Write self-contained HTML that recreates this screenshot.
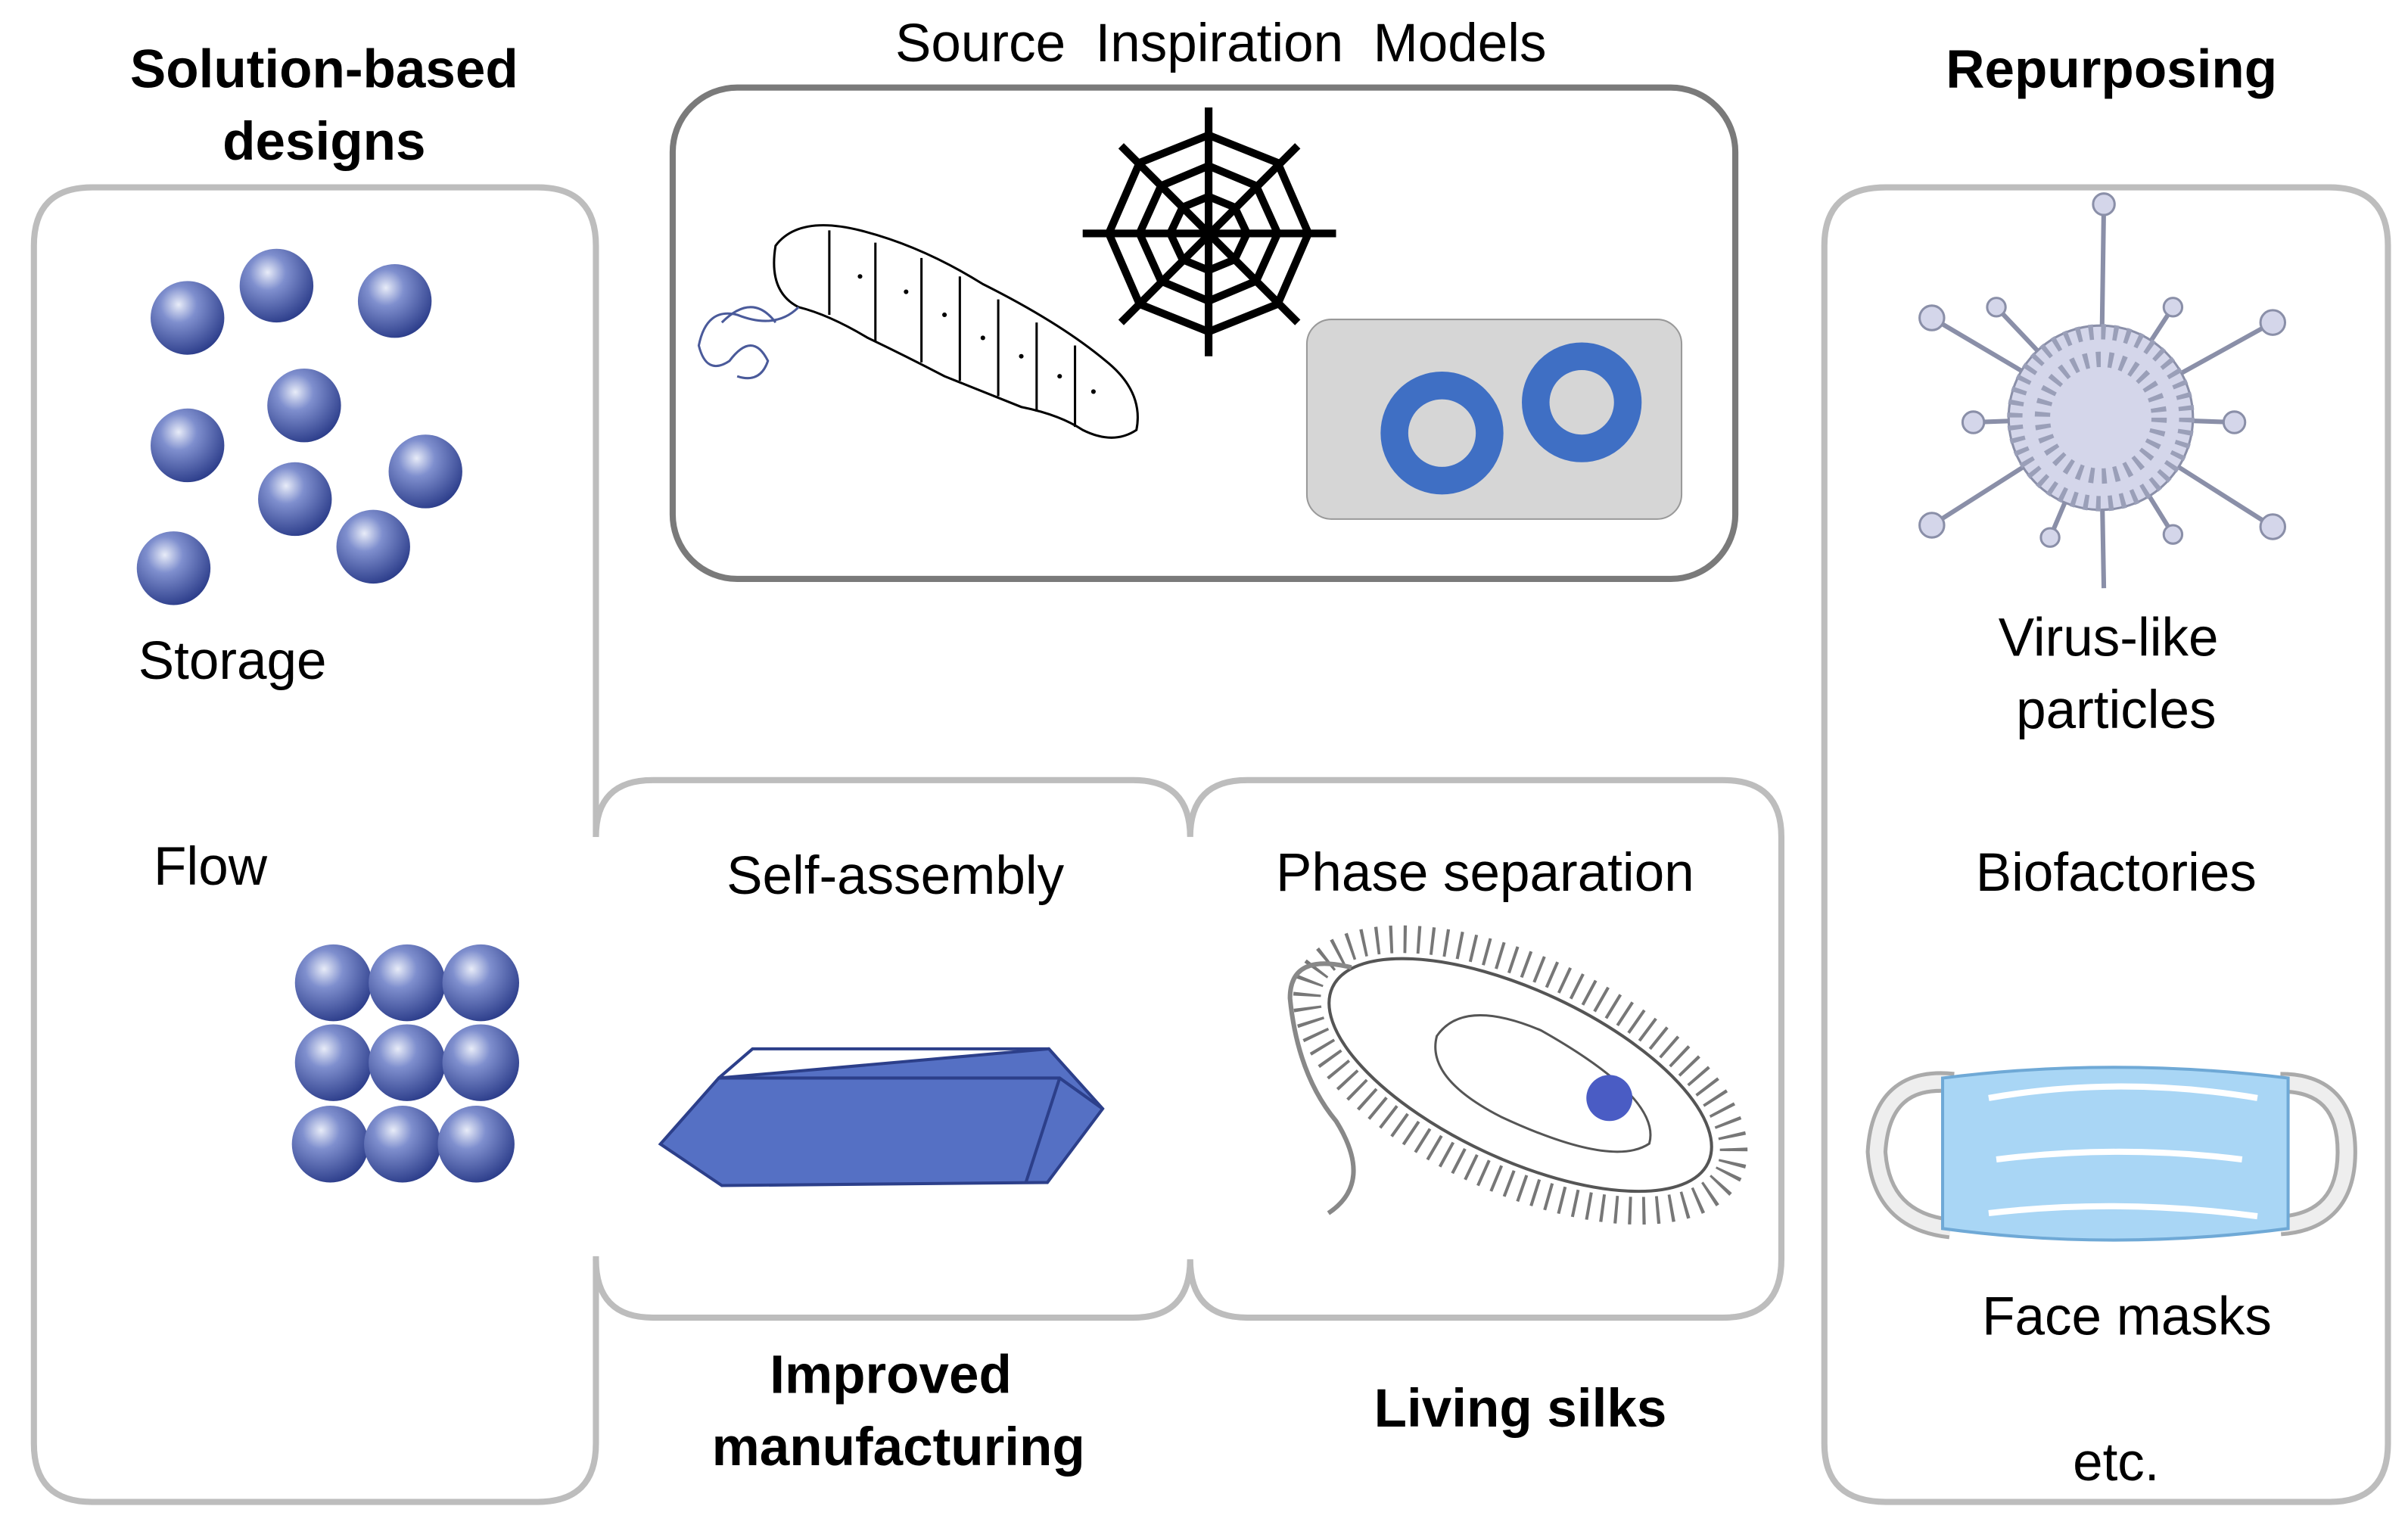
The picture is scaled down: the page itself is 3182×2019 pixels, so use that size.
<!DOCTYPE html>
<html><head><meta charset="utf-8"><style>
html,body{margin:0;padding:0;background:#fff;}
svg{display:block;}
text{font-family:"Liberation Sans",sans-serif;fill:#000;}
.b{font-weight:bold;}
</style></head><body>
<svg width="3182" height="2019" viewBox="0 0 1568 995" xmlns="http://www.w3.org/2000/svg">
<defs>
<radialGradient id="sp" cx="0.38" cy="0.32" r="0.7">
<stop offset="0" stop-color="#e8ecf8"/><stop offset="0.35" stop-color="#7f8fce"/><stop offset="1" stop-color="#2e3f8c"/>
</radialGradient>
</defs>
<!-- boxes -->
<g fill="none" stroke="#bdbdbd" stroke-width="4">
<path d="M388,545 V160 Q388,122 350,122 H60 Q22,122 22,160 V940 Q22,978 60,978 H350 Q388,978 388,940 V818"/>
<path d="M1228,122 H1517 Q1555,122 1555,160 V940 Q1555,978 1517,978 H1228 Q1188,978 1188,940 V160 Q1188,122 1228,122 Z"/>
<path d="M388,545 Q388,508 425,508 H738 Q775,508 775,545 Q775,508 812,508 H1122 Q1160,508 1160,545 V820 Q1160,858 1122,858 H812 Q775,858 775,820 Q775,858 738,858 H425 Q388,858 388,820"/>
</g>
<rect x="438" y="57" width="692" height="320" rx="42" fill="none" stroke="#7a7a7a" stroke-width="4"/>
<rect x="851" y="208" width="244" height="130" rx="16" fill="#d6d6d6" stroke="#999" stroke-width="1"/>
<circle cx="939" cy="282" r="31" fill="none" stroke="#3f6fc4" stroke-width="18"/>
<circle cx="1030" cy="262" r="30" fill="none" stroke="#3f6fc4" stroke-width="18"/>
<!-- web -->
<g stroke="#000" stroke-width="5" fill="none">
<line x1="787" y1="70" x2="787" y2="232"/><line x1="705" y1="152" x2="870" y2="152"/>
<line x1="730" y1="95" x2="845" y2="210"/><line x1="845" y1="95" x2="730" y2="210"/>
<path d="M787,88 L832,106 L852,152 L832,198 L787,216 L742,198 L722,152 L742,106 Z"/>
<path d="M787,108 L818,121 L832,152 L818,183 L787,196 L756,183 L742,152 L756,121 Z"/>
<path d="M787,128 L804,135 L812,152 L804,169 L787,176 L770,169 L762,152 L770,135 Z"/>
</g>
<!-- caterpillar -->
<g fill="#fff" stroke="#000" stroke-width="1.5">
<path d="M505,160 Q520,140 560,150 Q600,160 640,185 Q690,210 720,235 Q745,255 740,280 Q725,290 705,280 Q690,270 665,265 Q640,255 615,245 Q590,232 565,220 Q540,205 520,200 Q500,190 505,160 Z"/>
<path d="M540,150 V205 M570,158 V222 M600,168 V236 M625,180 V248 M650,195 V258 M675,210 V268 M700,225 V278" fill="none"/>
</g>
<g fill="#000"><circle cx="560" cy="180" r="1.5"/><circle cx="590" cy="190" r="1.5"/><circle cx="615" cy="205" r="1.5"/><circle cx="640" cy="220" r="1.5"/><circle cx="665" cy="232" r="1.5"/><circle cx="690" cy="245" r="1.5"/><circle cx="712" cy="255" r="1.5"/></g>
<path d="M520,200 Q505,215 480,205 Q460,200 455,225 Q460,245 475,235 Q490,215 500,235 Q495,250 480,245 M470,210 Q490,190 505,210" fill="none" stroke="#4a5a9a" stroke-width="1.5"/>
<!-- storage spheres -->
<g fill="url(#sp)">
<circle cx="122" cy="207" r="24"/><circle cx="180" cy="186" r="24"/><circle cx="257" cy="196" r="24"/>
<circle cx="198" cy="264" r="24"/><circle cx="122" cy="290" r="24"/><circle cx="277" cy="307" r="24"/>
<circle cx="192" cy="325" r="24"/><circle cx="243" cy="356" r="24"/><circle cx="113" cy="370" r="24"/>
<circle cx="217" cy="640" r="25"/><circle cx="265" cy="640" r="25"/><circle cx="313" cy="640" r="25"/>
<circle cx="217" cy="692" r="25"/><circle cx="265" cy="692" r="25"/><circle cx="313" cy="692" r="25"/>
<circle cx="215" cy="745" r="25"/><circle cx="262" cy="745" r="25"/><circle cx="310" cy="745" r="25"/>
</g>
<!-- crystal -->
<g stroke="#2c3f8a" stroke-width="2" fill="#5570c4">
<polygon points="430,745 468,702 683,683 718,722 682,770 470,772"/>
<polyline points="468,702 490,683 683,683" fill="none"/>
<polyline points="468,702 690,702 718,722" fill="none"/>
<line x1="690" y1="702" x2="668" y2="770"/>
</g>
<!-- bacterium -->
<g transform="rotate(25 990 700)">
<ellipse cx="990" cy="700" rx="150" ry="68" fill="none" stroke="#777" stroke-width="18" stroke-dasharray="2 7"/>
<ellipse cx="990" cy="700" rx="135" ry="55" fill="#fff" stroke="#555" stroke-width="2"/>
<path d="M930,700 Q935,670 990,668 Q1080,675 1085,705 Q1070,730 990,730 Q935,728 930,700 Z" fill="#fff" stroke="#555" stroke-width="1.5"/>
</g>
<circle cx="1048" cy="715" r="15" fill="#4a5cc4"/>
<path d="M880,630 Q840,620 840,650 Q845,700 870,730 Q895,770 865,790" fill="none" stroke="#888" stroke-width="3"/>
<!-- virus -->
<g stroke="#8a8fa8" stroke-width="3" fill="none">
<line x1="1368" y1="272" x2="1370" y2="133"/><line x1="1368" y1="272" x2="1370" y2="383"/>
<line x1="1368" y1="272" x2="1258" y2="207"/><line x1="1368" y1="272" x2="1480" y2="210"/>
<line x1="1368" y1="272" x2="1258" y2="342"/><line x1="1368" y1="272" x2="1480" y2="343"/>
<line x1="1368" y1="272" x2="1285" y2="275"/><line x1="1368" y1="272" x2="1455" y2="275"/>
<line x1="1368" y1="272" x2="1300" y2="200"/><line x1="1368" y1="272" x2="1415" y2="200"/>
<line x1="1368" y1="272" x2="1335" y2="350"/><line x1="1368" y1="272" x2="1415" y2="348"/>
</g>
<g fill="#d4d6ea" stroke="#8a8fa8" stroke-width="1.5">
<circle cx="1370" cy="133" r="7"/><circle cx="1258" cy="207" r="8"/><circle cx="1480" cy="210" r="8"/>
<circle cx="1258" cy="342" r="8"/><circle cx="1480" cy="343" r="8"/><circle cx="1285" cy="275" r="7"/>
<circle cx="1455" cy="275" r="7"/><circle cx="1300" cy="200" r="6"/><circle cx="1415" cy="200" r="6"/>
<circle cx="1335" cy="350" r="6"/><circle cx="1415" cy="348" r="6"/>
<circle cx="1368" cy="272" r="60"/>
</g>
<circle cx="1368" cy="272" r="56" fill="none" stroke="#9a9fb8" stroke-width="10" stroke-dasharray="3 5"/>
<circle cx="1368" cy="272" r="38" fill="none" stroke="#9a9fb8" stroke-width="10" stroke-dasharray="3 5"/>
<!-- mask -->
<path d="M1272,705 Q1225,700 1222,750 Q1225,795 1270,800" fill="none" stroke="#aaa" stroke-width="14"/>
<path d="M1272,705 Q1225,700 1222,750 Q1225,795 1270,800" fill="none" stroke="#eee" stroke-width="9"/>
<path d="M1485,705 Q1528,705 1528,750 Q1528,795 1485,798" fill="none" stroke="#aaa" stroke-width="14"/>
<path d="M1485,705 Q1528,705 1528,750 Q1528,795 1485,798" fill="none" stroke="#eee" stroke-width="9"/>
<path d="M1265,702 Q1375,688 1490,702 V800 Q1375,815 1265,800 Z" fill="#a9d6f5" stroke="#6fa9d6" stroke-width="2"/>
<g stroke="#fff" stroke-width="4" fill="none">
<path d="M1295,715 Q1380,700 1470,715"/><path d="M1300,755 Q1380,745 1460,755"/><path d="M1295,790 Q1380,780 1470,792"/>
</g>
<!-- text -->
<g font-size="35">
<text x="211" y="57" text-anchor="middle" class="b">Solution-based</text>
<text x="211" y="104" text-anchor="middle" class="b">designs</text>
<text x="795" y="40" text-anchor="middle" xml:space="preserve">Source  Inspiration  Models</text>
<text x="1375" y="57" text-anchor="middle" class="b">Repurposing</text>
<text x="90" y="442">Storage</text>
<text x="100" y="576">Flow</text>
<text x="583" y="582" text-anchor="middle">Self-assembly</text>
<text x="967" y="580" text-anchor="middle">Phase separation</text>
<text x="580" y="907" text-anchor="middle" class="b">Improved</text>
<text x="585" y="954" text-anchor="middle" class="b">manufacturing</text>
<text x="990" y="929" text-anchor="middle" class="b">Living silks</text>
<text x="1373" y="427" text-anchor="middle">Virus-like</text>
<text x="1378" y="474" text-anchor="middle">particles</text>
<text x="1378" y="580" text-anchor="middle">Biofactories</text>
<text x="1385" y="869" text-anchor="middle">Face masks</text>
<text x="1378" y="964" text-anchor="middle">etc.</text>
</g>
</svg>
</body></html>
